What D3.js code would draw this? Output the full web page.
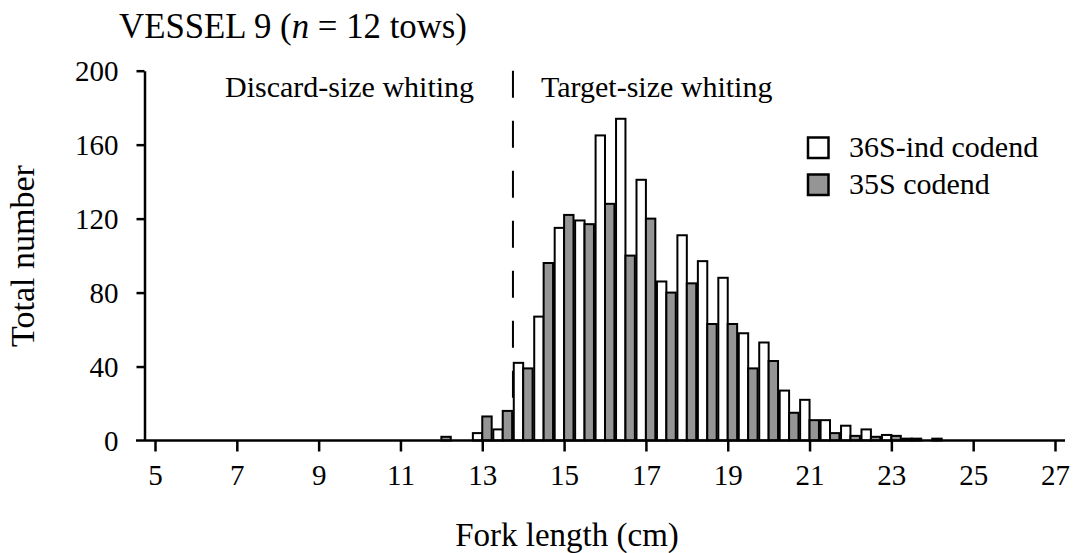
<!DOCTYPE html>
<html>
<head>
<meta charset="utf-8">
<script src="https://cdn.jsdelivr.net/npm/d3@7"></script>
<style>
  html, body { margin: 0; padding: 0; background: #fff; }
  svg text { font-family: "Liberation Serif", "Times New Roman", serif; fill: #000; }
</style>
</head>
<body>
<div id="chart"></div>
<script>
// fork length bins (cm), one pair of bars per bin
const bins = [12, 12.5, 13, 13.5, 14, 14.5, 15, 15.5, 16, 16.5, 17, 17.5, 18,
  18.5, 19, 19.5, 20, 20.5, 21, 21.5, 22, 22.5, 23, 23.5, 24];
const ind36S = [0, 0, 4, 6, 42, 67, 115, 119, 165, 174, 141, 86, 111,
  97, 88, 58, 53, 27, 22, 11, 8, 6, 3, 1, 0];
const cod35S = [2, 0, 13, 16, 39, 96, 122, 117, 128, 100, 120, 80, 85,
  63, 63, 39, 43, 15, 11, 4, 2.5, 2, 2.5, 1, 1];
const xTicks = [5, 7, 9, 11, 13, 15, 17, 19, 21, 23, 25, 27];
const yTicks = [0, 40, 80, 120, 160, 200];
const seriesNames = ['36S-ind codend', '35S codend'];
const seriesFill = ['#ffffff', '#959595'];
const discardLimit = 13.75;

const width = 1076, height = 553;
const svg = d3.select('#chart').append('svg')
  .attr('width', width)
  .attr('height', height);

const x = d3.scaleLinear().domain([5, 27]).range([155, 1055]);
const y = d3.scaleLinear().domain([0, 200]).range([440.5, 70.7]);
const halfBin = 0.23;

// bars: white series left of the bin value, grey series right of it
const series = [ind36S, cod35S];
series.forEach((vals, s) => {
  svg.append('g').selectAll('rect')
    .data(bins.map((b, i) => ({ b: b, v: vals[i] })).filter(d => d.v > 0))
    .enter().append('rect')
    .attr('x', d => s === 0 ? x(d.b - halfBin) : x(d.b))
    .attr('width', x(halfBin) - x(0))
    .attr('y', d => y(d.v))
    .attr('height', d => y(0) - y(d.v))
    .attr('fill', seriesFill[s])
    .attr('stroke', '#000')
    .attr('stroke-width', 2);
});

// dashed size limit
svg.append('line')
  .attr('x1', x(discardLimit)).attr('x2', x(discardLimit))
  .attr('y1', y(200)).attr('y2', y(0))
  .attr('stroke', '#000')
  .attr('stroke-width', 2)
  .attr('stroke-dasharray', '27,23');

// axes
const xAxis = svg.append('g')
  .attr('transform', `translate(0,${y(0)})`)
  .call(d3.axisBottom(x).tickValues(xTicks).tickSize(11).tickPadding(13).tickSizeOuter(0));
xAxis.select('.domain').attr('d', `M136,0H1065`);

const yAxis = svg.append('g')
  .attr('transform', 'translate(144.5,0)')
  .call(d3.axisLeft(y).tickValues(yTicks).tickSize(8).tickPadding(18).tickSizeOuter(0));
yAxis.selectAll('.tick').filter(d => d === 0).select('line').remove();

svg.selectAll('.domain, .tick line').attr('stroke', '#000').attr('stroke-width', 2.5);
svg.selectAll('.tick text')
  .style('font-size', '29px');
yAxis.selectAll('.tick text').attr('dy', '0.34em');

// titles
const title = svg.append('text')
  .attr('x', 119).attr('y', 38)
  .style('font-size', '34.8px');
title.append('tspan').text('VESSEL 9 (');
title.append('tspan').style('font-style', 'italic').text('n');
title.append('tspan').text(' = 12 tows)');

svg.append('text')
  .attr('x', 567).attr('y', 546)
  .attr('text-anchor', 'middle')
  .style('font-size', '33px')
  .text('Fork length (cm)');

svg.append('text')
  .attr('transform', 'translate(34,256) rotate(-90)')
  .attr('text-anchor', 'middle')
  .style('font-size', '34px')
  .text('Total number');

svg.append('text')
  .attr('x', 225).attr('y', 97)
  .style('font-size', '30px')
  .text('Discard-size whiting');

svg.append('text')
  .attr('x', 541).attr('y', 97)
  .style('font-size', '30px')
  .text('Target-size whiting');

// legend
const legend = svg.append('g');
seriesNames.forEach((name, i) => {
  const ly = 137.5 + i * 37;
  legend.append('rect')
    .attr('x', 808).attr('y', ly)
    .attr('width', 20.5).attr('height', 20.5)
    .attr('fill', seriesFill[i])
    .attr('stroke', '#000')
    .attr('stroke-width', 2.5);
  legend.append('text')
    .attr('x', 849).attr('y', ly + 19.5)
    .style('font-size', '30px')
    .text(name);
});
</script>
</body>
</html>
